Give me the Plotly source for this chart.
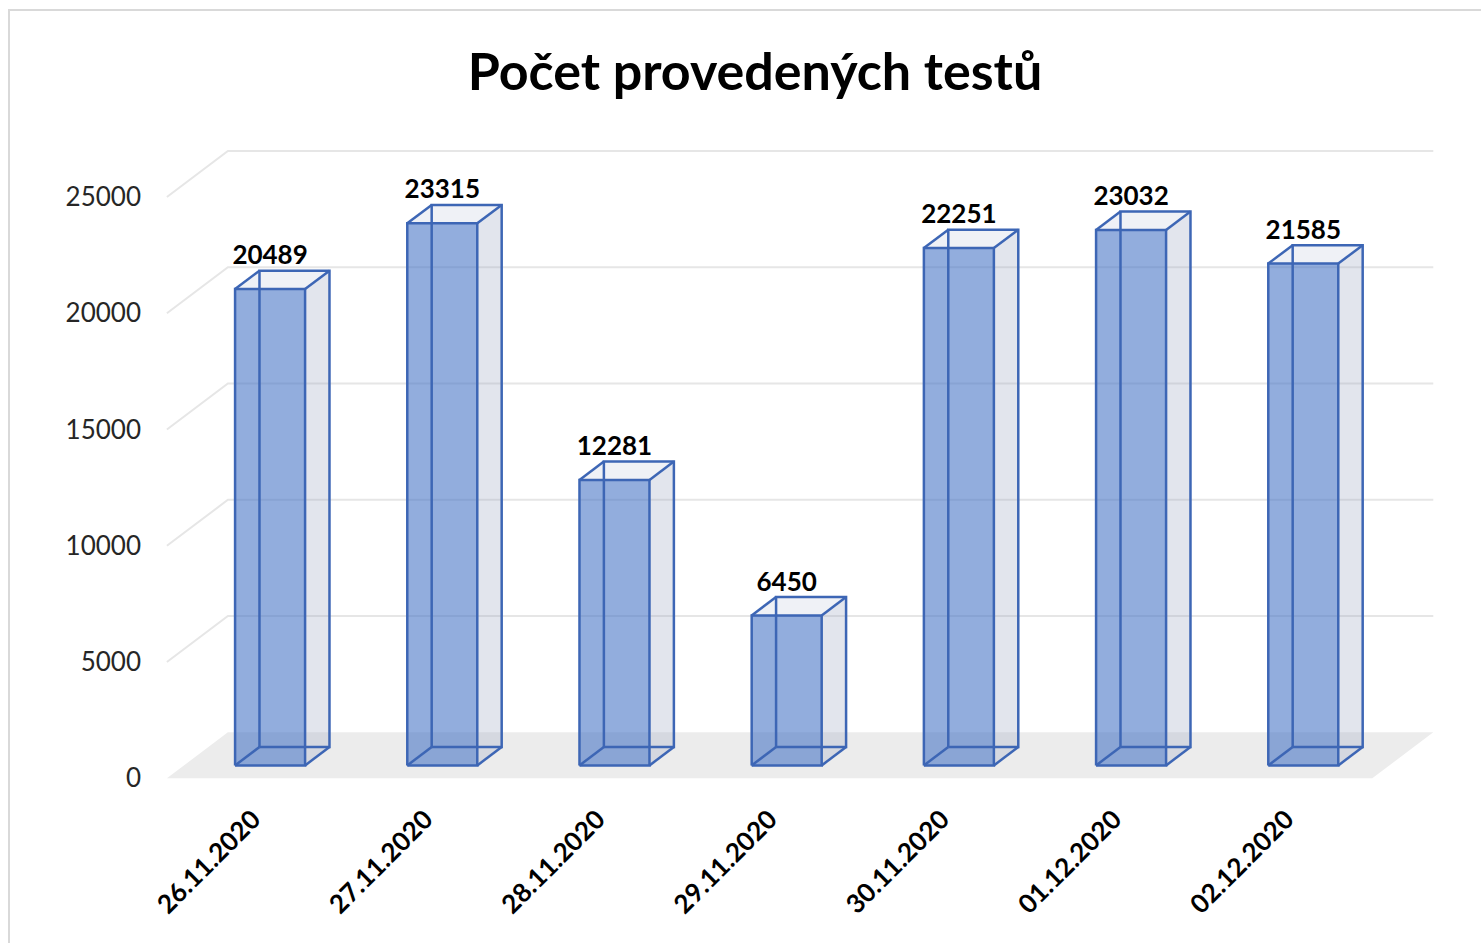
import plotly.graph_objects as go

# ---- data ----
dates = ["26.11.2020", "27.11.2020", "28.11.2020", "29.11.2020",
         "30.11.2020", "01.12.2020", "02.12.2020"]
tests = [20489, 23315, 12281, 6450, 22251, 23032, 21585]
y_ticks = [0, 5000, 10000, 15000, 20000, 25000]
title_text = "Počet provedených testů"

# ---- pseudo-3D geometry (in axis units) ----
XS = 172.2          # px per category
YS = 0.02325        # px per test unit
DXF = 61 / XS       # full floor depth, x
DYF = 46 / YS       # full floor depth, y
D0, D1 = 0.28, 0.68 # bar depth (front/back fraction)
HW = 35 / XS        # bar half width
n = len(tests)

L, R, T, B = 150, 41, 140, 150
W, H = 1481, 943
x_range = [(L - 253) / XS, (W - R - 253) / XS]
y_range = [(778.3 - (H - B)) / YS, (778.3 - T) / YS]

EDGE = "#3D66B5"
fig = go.Figure()

# floor
fx = [-0.5, -0.5 + DXF, n - 0.5 + DXF, n - 0.5, -0.5]
fy = [0, DYF, DYF, 0, 0]
fig.add_trace(go.Scatter(x=fx, y=fy, fill="toself", fillcolor="#ececec",
                         line=dict(width=0), mode="lines", hoverinfo="skip"))

# gridlines (back wall + left wall diagonal)
gx, gy = [], []
for v in y_ticks[1:]:
    gx += [-0.5, -0.5 + DXF, n - 0.5 + DXF, None]
    gy += [v, v + DYF, v + DYF, None]
fig.add_trace(go.Scatter(x=gx, y=gy, mode="lines",
                         line=dict(color="#e6e6e6", width=2), hoverinfo="skip"))

bdx, bdy = (D1 - D0) * DXF, (D1 - D0) * DYF
sx, sy, tx, ty, frx, fry, ex, ey = [], [], [], [], [], [], [], []
lx, ly = [], []
for i, v in enumerate(tests):
    xl = i + D0 * DXF - HW
    xr = i + D0 * DXF + HW
    y0 = D0 * DYF
    y1 = y0 + v
    # side face
    sx += [xr, xr + bdx, xr + bdx, xr, xr, None]
    sy += [y0, y0 + bdy, y1 + bdy, y1, y0, None]
    # top face
    tx += [xl, xr, xr + bdx, xl + bdx, xl, None]
    ty += [y1, y1, y1 + bdy, y1 + bdy, y1, None]
    # front face
    frx += [xl, xr, xr, xl, xl, None]
    fry += [y0, y0, y1, y1, y0, None]
    # edges
    ex += [xl, xr, xr, xl, xl, None]
    ey += [y0, y0, y1, y1, y0, None]
    ex += [xl + bdx, xr + bdx, xr + bdx, xl + bdx, xl + bdx, None]
    ey += [y0 + bdy, y0 + bdy, y1 + bdy, y1 + bdy, y0 + bdy, None]
    for (px, py) in [(xl, y0), (xr, y0), (xr, y1), (xl, y1)]:
        ex += [px, px + bdx, None]
        ey += [py, py + bdy, None]
    lx.append(i + D0 * DXF)
    ly.append(y1 + bdy)

fig.add_trace(go.Scatter(x=sx, y=sy, fill="toself", fillcolor="rgba(160,170,195,0.3)",
                         line=dict(width=0), mode="lines", hoverinfo="skip"))
fig.add_trace(go.Scatter(x=tx, y=ty, fill="toself", fillcolor="rgba(190,198,220,0.25)",
                         line=dict(width=0), mode="lines", hoverinfo="skip"))
fig.add_trace(go.Scatter(x=frx, y=fry, fill="toself", fillcolor="rgba(68,114,196,0.58)",
                         line=dict(width=0), mode="lines", hoverinfo="skip"))
fig.add_trace(go.Scatter(x=ex, y=ey, mode="lines",
                         line=dict(color=EDGE, width=2.5), hoverinfo="skip"))
fig.add_trace(go.Scatter(x=lx, y=ly, mode="text", text=[str(v) for v in tests],
                         textposition="top center",
                         textfont=dict(family="Lato", size=26, color="#000000", weight="bold"),
                         hoverinfo="skip"))

fig.update_layout(
    width=W, height=H,
    margin=dict(l=L, r=R, t=T, b=B),
    paper_bgcolor="white", plot_bgcolor="white",
    showlegend=False,
    title=dict(text="<b>" + title_text + "</b>", x=755 / W, xref="container",
               xanchor="center", y=1 - 72 / H, yref="container", yanchor="middle",
               font=dict(family="Lato", size=52, color="#000000")),
    xaxis=dict(range=x_range, tickvals=list(range(n)), ticktext=dates,
               tickangle=-45, showgrid=False, zeroline=False, showline=False,
               ticks="", ticklabelstandoff=5,
               tickfont=dict(family="Lato", size=26, color="#000000", weight="bold")),
    yaxis=dict(range=y_range, tickvals=y_ticks, ticktext=[str(v) for v in y_ticks],
               showgrid=False, zeroline=False, showline=False, ticks="",
               ticklabelstandoff=8,
               tickfont=dict(family="Lato", size=26, color="#262626")),
    shapes=[dict(type="rect", xref="paper", yref="paper",
                 x0=(9 - L) / (W - L - R), x1=(W + 10 - L) / (W - L - R),
                 y0=((H - B) - (H + 10)) / (H - T - B), y1=((H - B) - 10) / (H - T - B),
                 line=dict(color="#d9d9d9", width=2), layer="below")],
)

fig.write_html("out.html", config={"displayModeBar": False},
               post_script="document.body.style.margin='0';")
